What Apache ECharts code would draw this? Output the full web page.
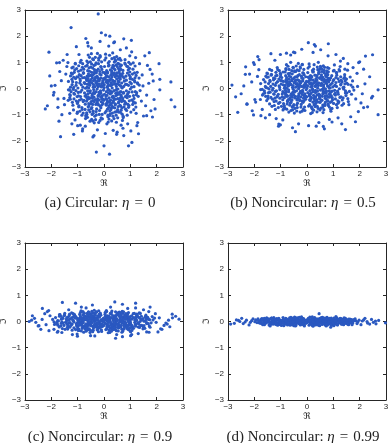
<!DOCTYPE html>
<html>
<head>
<meta charset="utf-8">
<script src="https://cdn.jsdelivr.net/npm/echarts@6/dist/echarts.min.js"></script>
<style>
html,body{margin:0;padding:0;background:#fff;}
#chart{width:391px;height:443px;}
</style>
</head>
<body>
<div id="chart"></div>
<script>
// tick values shared by all four panels
var tickValues = [-3, -2, -1, 0, 1, 2, 3];

// (a) circular, eta = 0 : points
var circCore = [[0.12,0.05],[-0.31,0.22],[0.45,-0.18],[-0.08,-0.41],[0.27,0.38],[-0.52,-0.09],[0.03,0.61],[0.58,0.14],[-0.19,-0.23],[0.36,-0.47],
[-0.44,0.41],[0.09,-0.12],[-0.63,0.17],[0.21,-0.64],[-0.27,-0.55],[0.49,0.49],[-0.05,0.29],[0.66,-0.31],[-0.38,-0.33],[0.15,0.19],
[-0.11,0.52],[0.31,0.02],[-0.56,-0.38],[0.41,0.27],[-0.22,0.07],[0.07,-0.29],[-0.47,0.62],[0.55,-0.55],[-0.02,-0.06],[0.24,-0.21],
[-0.35,0.33],[0.62,0.36],[-0.14,-0.67],[0.18,0.44],[-0.61,-0.2],[0.38,-0.08],[-0.26,0.46],[0.01,0.14],[0.52,-0.39],[-0.43,-0.61],
[0.29,0.59],[-0.09,-0.34],[0.47,0.08],[-0.57,0.28],[0.13,-0.48],[-0.3,-0.12],[0.69,0.02],[-0.17,0.36],[0.34,-0.29],[-0.41,0.05],
[0.06,0.42],[-0.66,-0.48],[0.23,0.12],[-0.04,-0.57],[0.57,0.26],[-0.33,-0.42],[0.16,-0.03],[-0.51,0.5],[0.43,-0.62],[-0.2,0.18],
[0.1,0.68],[-0.45,-0.27],[0.64,-0.12],[-0.12,-0.18],[0.33,0.31],[-0.58,0.02],[0.02,-0.22],[0.26,0.51],[-0.37,0.57],[0.5,-0.24],
[-0.24,-0.39],[0.19,-0.36],[-0.68,0.38],[0.4,0.18],[-0.07,0.09],[0.6,0.55],[-0.49,-0.5],[0.11,0.24],[-0.16,0.65],[0.35,-0.53],
[-0.28,0.26],[0.53,-0.02],[-0.01,-0.45],[0.22,0.33],[-0.54,0.12],[0.44,-0.41],[-0.13,-0.09],[0.05,0.56],[-0.39,-0.04],[0.67,0.21],
[-0.21,-0.63],[0.3,-0.14],[-0.6,-0.32],[0.14,0.09],[-0.32,0.44],[0.48,0.37],[-0.06,-0.27],[0.39,0.6],[-0.46,0.21],[0.08,-0.6],
[0.25,-0.44],[-0.53,-0.16],[0.61,-0.45],[-0.18,0.3],[0.04,0.35],[-0.42,-0.46],[0.56,0.41],[-0.1,-0.51],[0.32,0.15],[-0.64,0.06],
[0.17,-0.17],[-0.29,0.6],[0.46,-0.06],[-0.03,0.21],[0.28,-0.58],[-0.5,0.34],[0.63,0.1],[-0.23,-0.28],[0.09,0.47],[-0.36,-0.19],
[0.42,0.45],[-0.15,0.11],[0.2,-0.53],[-0.59,0.47],[0.54,0.29],[-0.08,-0.63],[0.37,-0.35],[-0.4,0.15],[0.0,0.03],[0.27,0.22],
[-0.62,-0.09],[0.13,0.63],[-0.25,-0.47],[0.51,-0.16],[-0.34,0.38],[0.07,-0.39],[0.59,0.47],[-0.48,-0.58],[0.19,0.28],[-0.12,0.4],
[0.45,-0.27],[-0.55,0.25],[0.24,-0.09],[-0.19,-0.15],[0.36,0.53],[-0.04,0.62],[0.65,-0.25],[-0.44,-0.36],[0.11,-0.26],[-0.27,0.13]];
var circFill = [[0.18,-0.72],[-0.66,0.31],[0.93,0.12],[-0.21,0.95],[0.47,-0.88],[-1.02,-0.31],[0.29,0.67],[-0.48,-0.77],[0.71,0.58],[-0.87,0.49],
[0.04,-0.93],[0.58,-0.22],[-0.35,0.07],[1.09,-0.61],[-0.13,-0.32],[0.39,1.01],[-0.74,-0.17],[0.82,-0.79],[-0.57,0.79],[0.13,0.31],
[-0.96,0.87],[0.66,0.89],[-0.29,-1.01],[1.18,0.41],[-0.42,0.52],[0.23,-0.47],[-1.16,-0.82],[0.51,0.19],[-0.08,0.73],[0.88,-0.35],
[-0.62,-0.41],[0.34,-1.06],[-1.24,0.59],[0.77,0.28],[-0.17,-0.84],[1.01,0.93],[-0.51,0.24],[0.09,-0.64],[-0.84,-0.73],[0.45,0.53],
[-0.33,1.19],[1.23,-0.24],[-0.7,0.01],[0.19,0.89],[-1.07,-0.08],[0.63,-0.67],[-0.24,0.41],[0.96,0.51],[-0.45,-0.99],[0.31,-0.33],
[-0.91,0.36],[0.54,1.12],[-0.06,-1.16],[0.85,-0.09],[-1.19,0.26],[0.12,0.48],[-0.58,-0.58],[1.14,0.07],[-0.38,0.88],[0.69,-0.98],
[-0.79,-0.94],[0.27,0.11],[-1.28,-0.41],[0.92,0.71],[-0.16,0.55],[0.41,-0.74],[-0.65,1.05],[1.05,-0.44],[-0.03,-0.41],[0.6,0.41],
[-0.99,-0.52],[0.36,0.77],[-0.44,-0.21],[0.79,-0.6],[-1.11,0.71],[0.16,-1.28],[-0.27,0.17],[1.27,0.22],[-0.72,-0.8],[0.48,-0.03],
[-0.55,0.66],[0.07,1.17],[-0.89,-0.31],[0.74,-0.18],[-0.12,-0.74],[1.08,0.35],[-0.4,0.3],[0.22,-0.86],[-1.03,0.45],[0.64,0.73],
[-0.31,-0.61],[0.95,-0.65],[-0.78,0.58],[0.28,-0.16],[-1.14,-0.19],[0.53,0.96],[-0.2,1.08],[0.86,0.16],[-0.63,-1.1],[0.14,0.6],
[-0.86,0.14],[0.43,-0.59],[-0.09,0.19],[1.19,-0.12],[-0.47,0.94],[0.7,0.46],[-1.27,0.05],[0.32,-0.94],[-0.19,-0.44],[0.9,0.84],
[-0.68,-0.25],[0.2,1.03],[-0.95,-0.66],[0.61,-0.37],[-0.36,0.63],[1.13,-0.81],[-0.02,0.38],[0.44,0.16],[-1.09,0.96],[0.78,-0.49],
[-0.53,-0.89],[0.99,0.38],[-0.26,-0.02],[0.37,0.86],[-0.81,0.41],[0.65,-0.83],[-1.2,-0.53],[0.1,-0.41],[-0.43,1.13],[1.16,0.6],
[-0.73,0.19],[0.52,-1.12],[-0.11,0.82],[0.87,-0.26],[-0.98,-0.15],[0.3,0.45],[-0.6,-0.7],[1.22,0.5],[-0.32,-1.19],[0.58,0.68],
[-1.05,0.23],[0.11,-0.55],[-0.46,0.49],[0.81,0.93],[-0.23,-0.58],[0.68,0.04],[-0.9,1.0],[0.38,-0.4],[-1.3,-0.23],[0.97,-0.3],
[-0.61,0.38],[0.26,-0.81],[-0.15,1.26],[1.04,0.19],[-0.76,-0.45],[0.49,0.6],[-0.37,-0.5],[0.73,-1.11],[-1.15,0.43],[0.02,0.84],
[-0.5,-0.36],[0.89,0.59],[-0.07,-0.99],[0.56,-0.51],[-0.97,0.66],[0.35,0.27],[-0.69,-1.03],[1.11,-0.5],[-0.28,0.68],[0.17,-0.06],
[-0.84,-0.06],[0.62,0.84],[-0.41,-0.86],[0.94,-0.14],[-1.22,0.79],[0.08,0.25],[-0.56,0.16],[0.76,-0.7],[-0.18,-0.23],[0.42,1.1],
[-0.93,-0.44],[0.31,-0.68],[-0.3,0.98],[1.17,0.25],[-0.64,0.47],[0.55,-0.9],[-0.1,0.06],[0.83,0.47],[-1.01,-0.9],[0.24,0.71],
[-0.39,-0.15],[0.71,-0.44],[-0.82,0.81],[0.15,-1.02],[-0.22,0.31],[1.0,-0.02],[-0.66,-0.34],[0.46,0.9],[-1.17,-0.03],[0.6,-0.14]];
var circRing = [[0.85,0.32],[-0.92,0.21],[0.34,0.88],[-0.41,-0.95],[1.12,-0.27],[-1.05,-0.48],[0.62,-0.91],[-0.77,0.74],[0.15,-1.08],[-0.2,1.16],
[0.98,0.63],[-1.21,0.15],[0.71,-0.38],[-0.58,-0.82],[0.44,1.05],[-0.89,-0.13],[1.28,0.18],[-0.33,0.91],[0.08,-0.87],[-1.13,0.62],
[0.93,-0.72],[-0.68,-1.08],[0.55,0.76],[-1.3,-0.35],[0.21,1.27],[-0.74,0.42],[1.05,0.05],[-0.15,-1.22],[0.79,0.97],[-0.96,-0.7],
[0.38,-1.15],[-0.52,1.02],[1.19,-0.55],[-1.08,0.38],[0.66,0.52],[-0.28,-0.78],[0.9,-0.2],[-0.81,0.95],[0.03,1.09],[-1.25,-0.12],
[0.73,-1.06],[-0.47,-1.18],[1.33,0.4],[-0.62,0.68],[0.27,-0.76],[-0.99,0.02],[0.48,1.22],[-0.86,-0.41],[1.1,0.74],[-0.12,0.84],
[0.61,-0.64],[-1.17,0.82],[0.82,0.16],[-0.37,-1.31],[0.16,0.97],[-0.71,-0.6],[1.24,-0.16],[-0.55,1.19],[0.96,-0.47],[-1.02,-0.95],
[0.42,0.72],[-0.25,1.34],[0.7,-1.22],[-1.35,0.27],[0.87,0.85],[-0.8,0.05],[0.11,-1.35],[-0.43,0.78],[1.16,0.3],[-0.66,-0.93],
[0.52,-0.81],[-1.12,-0.22],[0.3,1.14],[-0.94,0.53],[1.02,-0.9],[-0.18,-0.99],[0.76,0.4],[-0.6,1.28],[1.37,-0.08],[-0.84,-1.02],
[0.24,-0.97],[-1.27,0.48],[0.64,1.08],[-0.46,-0.73],[1.08,0.55],[-0.09,1.02],[0.83,-0.56],[-0.72,-0.29],[0.47,-1.29],[-1.04,0.76],
[0.99,0.24],[-0.35,-1.06],[0.58,0.93],[-0.9,0.3],[1.21,-0.71],[-0.64,0.88],[0.19,-1.17],[-1.18,-0.64],[0.72,0.69],[-0.22,0.74],
[0.94,1.0],[-1.31,-0.05],[0.35,-0.72],[-0.53,-1.25],[1.26,0.62],[-0.78,0.61],[0.06,1.31],[-0.97,-0.28],[0.68,-0.74],[-0.4,1.1],
[1.14,-0.38],[-0.83,-0.8],[0.5,0.84],[-1.06,0.12],[0.29,-1.24],[-0.61,0.99],[0.88,-1.02],[-1.22,0.35],[0.75,0.08],[-0.3,-0.88],
[1.0,0.44],[-0.7,-1.15],[0.39,1.18],[-1.14,-0.4],[0.81,-0.31],[-0.5,0.82],[1.3,-0.3],[-0.88,0.7],[0.13,-0.79],[-0.2,-1.3],
[0.6,1.15],[-1.01,-0.57],[1.18,0.86],[-0.57,-0.67],[0.31,0.8],[-1.36,-0.45],[0.91,-0.61],[-0.75,0.23],[0.46,-1.02],[-0.14,1.21],
[1.07,-0.13],[-0.92,-0.87],[0.57,0.62],[-1.2,0.55],[0.22,-1.03],[-0.48,1.33],[0.97,0.77],[-0.79,-0.5],[1.22,-0.95],[-0.36,0.72],
[0.67,-0.5],[-1.09,0.94],[0.41,-0.9],[-0.65,-0.99],[0.8,1.1],[-0.98,0.44],[1.34,0.13],[-0.11,-1.12],[0.54,-0.69],[-0.87,1.08],
[0.17,0.86],[-1.28,-0.27],[0.86,-0.84],[-0.59,0.56],[1.11,0.98],[-0.42,-1.24],[0.74,-0.15],[-1.15,0.04],[0.33,1.36],[-0.7,0.85]];
var circOuter = [[1.45,0.52],[-1.52,-0.38],[0.62,1.48],[-0.71,-1.44],[1.58,-0.66],[-1.41,0.84],[0.35,-1.6],[-0.48,1.55],[1.7,0.2],[-1.62,0.3],
[1.2,1.18],[-1.1,-1.2],[0.9,-1.35],[-0.95,1.3],[1.5,-1.05],[-1.75,-0.72],[0.18,1.62],[-0.25,-1.58],[1.83,0.55],[-1.55,1.08],
[1.35,0.95],[-1.3,-0.95],[0.72,-1.52],[-0.6,1.62],[1.62,-0.25],[-1.86,0.12],[1.05,1.4],[-1.22,-1.35],[0.48,-1.75],[-1.45,0.55],
[1.9,-0.42],[-1.6,-1.0],[0.85,1.55],[-0.82,-1.62],[1.48,0.1],[-1.4,1.3],[1.28,-1.3],[-1.92,-0.25],[0.05,-1.72],[-0.15,1.8],
[1.65,0.88],[-1.68,0.65],[1.02,-1.62],[-1.05,1.6],[1.78,-0.85],[-1.5,-0.62],[0.4,1.78],[-0.42,-1.85],[1.55,1.25],[-1.8,0.98],
[1.42,-0.48],[-1.35,-0.05],[0.98,1.25],[-0.9,-1.4],[0.65,-1.4]];
var circStray = [[-0.22,2.85],[-1.25,2.33],[-0.1,2.13],[0.06,2.04],[0.22,2.0],[-0.69,1.91],[0.75,1.9],[1.04,1.84],[-2.09,1.39],[2.09,0.95],
[2.54,0.25],[2.55,-0.43],[2.69,-0.7],[-2.23,-0.78],[-2.15,-0.66],[-1.71,-1.25],[-1.65,-1.84],[-1.15,-1.75],[-0.29,-2.43],[0.21,-2.51],
[0.0,-2.19],[0.93,-2.19],[1.06,-2.06],[1.84,-1.09],[2.12,-0.05],[1.72,1.37],[-0.38,-1.8],[1.31,-1.73],[-2.06,0.48],[-2.0,0.1],
[-1.9,-0.15],[-1.75,-0.4],[-1.37,0.99],[-1.69,0.99],[1.75,0.73],[1.87,0.29],[2.12,0.35],[1.94,-0.78],[1.62,-1.04],[1.25,-1.42],
[-1.0,-1.42],[-0.81,-1.54],[0.5,-1.67],[0.75,-1.8],[-0.62,1.75],[0.37,1.75]];

// (b) noncircular, eta = 0.5
var nc05Core = [[0.14,0.06],[-0.42,0.18],[0.61,-0.12],[-0.1,-0.33],[0.35,0.27],[-0.7,-0.05],[0.05,0.44],[0.78,0.1],[-0.25,-0.15],[0.48,-0.36],
[-0.58,0.3],[0.11,-0.08],[-0.83,0.12],[0.29,-0.46],[-0.37,-0.4],[0.66,0.35],[-0.06,0.21],[0.85,-0.22],[-0.51,-0.24],[0.2,0.14],
[-0.15,0.38],[0.41,0.01],[-0.74,-0.28],[0.55,0.2],[-0.3,0.05],[0.09,-0.21],[-0.62,0.45],[0.73,-0.4],[-0.03,-0.04],[0.32,-0.15],
[-0.47,0.24],[0.82,0.26],[-0.19,-0.48],[0.24,0.32],[-0.8,-0.14],[0.51,-0.06],[-0.35,0.33],[0.02,0.1],[0.69,-0.28],[-0.57,-0.44],
[0.39,0.43],[-0.12,-0.25],[0.63,0.06],[-0.76,0.2],[0.17,-0.35],[-0.4,-0.09],[0.88,0.02],[-0.23,0.26],[0.45,-0.21],[-0.55,0.04],
[0.08,0.3],[-0.86,-0.35],[0.31,0.09],[-0.05,-0.41],[0.75,0.19],[-0.44,-0.3],[0.21,-0.02],[-0.68,0.36],[0.57,-0.45],[-0.27,0.13],
[0.13,0.49],[-0.6,-0.2],[0.84,-0.09],[-0.16,-0.13],[0.44,0.22],[-0.77,0.01],[0.03,-0.16],[0.34,0.37],[-0.49,0.41],[0.66,-0.17],
[-0.32,-0.28],[0.25,-0.26],[-0.9,0.27],[0.53,0.13],[-0.09,0.07],[0.8,0.4],[-0.65,-0.36],[0.15,0.17],[-0.21,0.47],[0.47,-0.38],
[-0.37,0.19],[0.7,-0.01],[-0.01,-0.32],[0.29,0.24],[-0.72,0.09],[0.58,-0.3],[-0.17,-0.07],[0.07,0.41],[-0.52,-0.03],[0.89,0.15],
[-0.28,-0.46],[0.4,-0.1],[-0.79,-0.23],[0.19,0.07],[-0.43,0.32],[0.64,0.27],[-0.08,-0.2],[0.52,0.44],[-0.61,0.15],[0.1,-0.43],
[0.33,-0.32],[-0.7,-0.12],[0.81,-0.33],[-0.24,0.22],[0.05,0.25],[-0.56,-0.33],[0.74,0.3],[-0.13,-0.37],[0.43,0.11],[-0.85,0.04],
[0.22,-0.12],[-0.38,0.44],[0.61,-0.04],[-0.04,0.15],[0.37,-0.42],[-0.66,0.25],[0.83,0.07],[-0.31,-0.2],[0.12,0.34],[-0.48,-0.14],
[0.56,0.33],[-0.2,0.08],[0.27,-0.39],[-0.78,0.34],[0.71,0.21],[-0.11,-0.46],[0.49,-0.25],[-0.53,0.11],[0.0,0.02],[0.36,0.16],
[-0.82,-0.07],[0.17,0.46],[-0.33,-0.34],[0.68,-0.12],[-0.45,0.27],[0.09,-0.28],[0.79,0.34],[-0.64,-0.42],[0.25,0.2],[-0.16,0.29],
[0.6,-0.2],[-0.73,0.18],[0.32,-0.07],[-0.25,-0.11],[0.48,0.39],[-0.05,0.45],[0.87,-0.18],[-0.59,-0.26],[0.15,-0.19],[-0.36,0.1]];
var nc05Fill = [[0.22,-0.52],[-0.81,0.27],[1.12,0.08],[-0.3,0.68],[0.6,-0.63],[-1.25,-0.22],[0.37,0.49],[-0.63,-0.55],[0.9,0.41],[-1.07,0.36],
[0.06,-0.67],[0.73,-0.16],[-0.43,0.05],[1.34,-0.44],[-0.18,-0.23],[0.48,0.73],[-0.92,-0.12],[1.01,-0.57],[-0.71,0.57],[0.16,0.22],
[-1.18,0.62],[0.81,0.64],[-0.37,-0.73],[1.45,0.3],[-0.52,0.37],[0.29,-0.34],[-1.42,-0.59],[0.63,0.14],[-0.11,0.53],[1.08,-0.25],
[-0.77,-0.3],[0.42,-0.76],[-1.52,0.43],[0.95,0.2],[-0.22,-0.61],[1.24,0.67],[-0.63,0.17],[0.12,-0.46],[-1.03,-0.53],[0.56,0.38],
[-0.41,0.86],[1.51,-0.17],[-0.86,0.01],[0.24,0.64],[-1.31,-0.06],[0.78,-0.48],[-0.3,0.3],[1.18,0.37],[-0.56,-0.71],[0.38,-0.24],
[-1.12,0.26],[0.67,0.81],[-0.08,-0.84],[1.05,-0.07],[-1.46,0.19],[0.15,0.35],[-0.71,-0.42],[1.4,0.05],[-0.47,0.64],[0.85,-0.71],
[-0.97,-0.68],[0.33,0.08],[-1.57,-0.3],[1.13,0.51],[-0.2,0.4],[0.5,-0.53],[-0.8,0.76],[1.29,-0.32],[-0.04,-0.3],[0.74,0.3],
[-1.22,-0.37],[0.44,0.56],[-0.54,-0.15],[0.97,-0.43],[-1.36,0.51],[0.2,-0.92],[-0.33,0.12],[1.56,0.16],[-0.89,-0.58],[0.59,-0.02],
[-0.68,0.48],[0.09,0.84],[-1.09,-0.22],[0.91,-0.13],[-0.15,-0.53],[1.33,0.25],[-0.49,0.22],[0.27,-0.62],[-1.27,0.33],[0.79,0.53],
[-0.38,-0.44],[1.17,-0.47],[-0.96,0.42],[0.34,-0.12],[-1.4,-0.14],[0.65,0.69],[-0.25,0.78],[1.06,0.12],[-0.77,-0.79],[0.17,0.43],
[-1.06,0.1],[0.53,-0.43],[-0.11,0.14],[1.46,-0.09],[-0.58,0.68],[0.86,0.33],[-1.56,0.04],[0.39,-0.68],[-0.23,-0.32],[1.11,0.61],
[-0.84,-0.18],[0.25,0.74],[-1.17,-0.48],[0.75,-0.27],[-0.44,0.45],[1.39,-0.58],[-0.02,0.27],[0.54,0.12],[-1.34,0.69],[0.96,-0.35],
[-0.65,-0.64],[1.22,0.27],[-0.32,-0.01],[0.46,0.62],[-1.0,0.3],[0.8,-0.6],[-1.48,-0.38],[0.12,-0.3],[-0.53,0.81],[1.43,0.43],
[-0.9,0.14],[0.64,-0.81],[-0.14,0.59],[1.07,-0.19],[-1.2,-0.11],[0.37,0.32],[-0.74,-0.5],[1.5,0.36],[-0.39,-0.86],[0.71,0.49],
[-1.29,0.17],[0.14,-0.4],[-0.57,0.35],[1.0,0.67],[-0.28,-0.42],[0.84,0.03],[-1.11,0.72],[0.47,-0.29],[-1.6,-0.17],[1.19,-0.22],
[-0.75,0.27],[0.32,-0.58],[-0.18,0.91],[1.28,0.14],[-0.94,-0.32],[0.6,0.43],[-0.46,-0.36],[0.9,-0.8],[-1.41,0.31],[0.03,0.61],
[-0.62,-0.26],[1.1,0.42],[-0.09,-0.71],[0.69,-0.37],[-1.19,0.48],[0.43,0.19],[-0.85,-0.74],[1.37,-0.36],[-0.35,0.49],[0.21,-0.04],
[-1.03,-0.04],[0.76,0.6],[-0.5,-0.62],[1.16,-0.1],[-1.5,0.57],[0.1,0.18],[-0.69,0.12],[0.93,-0.5],[-0.22,-0.17],[0.52,0.79],
[-1.14,-0.32],[0.38,-0.49],[-0.37,0.71],[1.44,0.18],[-0.79,0.34],[0.68,-0.65],[-0.12,0.04],[1.02,0.34],[-1.24,-0.65],[0.3,0.51],
[-0.48,-0.11],[0.87,-0.32],[-1.01,0.58],[0.18,-0.74],[-0.27,0.22],[1.23,-0.01],[-0.81,-0.25],[0.57,0.65],[-1.44,-0.02],[0.74,-0.1]];
var nc05Ring = [[1.1,0.23],[-1.2,0.12],[0.45,0.63],[-0.53,-0.68],[1.46,-0.17],[-1.37,-0.34],[0.81,-0.65],[-1.0,0.53],[0.2,-0.78],[-0.26,0.83],
[1.28,0.45],[-1.58,0.08],[0.92,-0.27],[-0.75,-0.59],[0.57,0.75],[-1.16,-0.09],[1.67,0.13],[-0.43,0.65],[0.1,-0.62],[-1.47,0.44],
[1.21,-0.51],[-0.88,-0.77],[0.72,0.54],[-1.69,-0.25],[0.27,0.91],[-0.96,0.3],[1.37,0.03],[-0.19,-0.87],[1.03,0.69],[-1.25,-0.5],
[0.49,-0.82],[-0.68,0.73],[1.55,-0.39],[-1.4,0.27],[0.86,0.37],[-0.36,-0.56],[1.17,-0.14],[-1.05,0.68],[0.04,0.78],[-1.62,-0.09],
[0.95,-0.76],[-0.61,-0.84],[1.73,0.29],[-0.81,0.49],[0.35,-0.54],[-1.29,0.01],[0.62,0.87],[-1.12,-0.29],[1.43,0.53],[-0.16,0.6],
[0.79,-0.46],[-1.52,0.59],[1.07,0.11],[-0.48,-0.94],[0.21,0.69],[-0.92,-0.43],[1.61,-0.11],[-0.72,0.85],[1.25,-0.34],[-1.33,-0.68],
[0.55,0.52],[-0.33,0.96],[0.91,-0.87],[-1.76,0.19],[1.13,0.61],[-1.04,0.04],[0.14,-0.96],[-0.56,0.56],[1.51,0.21],[-0.86,-0.66],
[0.68,-0.58],[-1.46,-0.16],[0.39,0.82],[-1.22,0.38],[1.33,-0.64],[-0.23,-0.71],[0.99,0.29],[-0.78,0.91],[1.78,-0.06],[-1.09,-0.73],
[0.31,-0.69],[-1.65,0.34],[0.83,0.77],[-0.6,-0.52],[1.4,0.39],[-0.12,0.73],[1.08,-0.4],[-0.94,-0.21],[0.61,-0.92],[-1.35,0.54],
[1.29,0.17],[-0.46,-0.76],[0.75,0.67],[-1.17,0.21],[1.57,-0.5],[-0.83,0.63],[0.25,-0.83],[-1.53,-0.46],[0.94,0.49],[-0.29,0.53],
[1.22,0.72],[-1.7,-0.03],[0.46,-0.52],[-0.69,-0.9],[1.64,0.44],[-1.01,0.44],[0.08,0.94],[-1.26,-0.2],[0.88,-0.53],[-0.52,0.79],
[1.48,-0.27],[-1.08,-0.57],[0.65,0.6],[-1.38,0.08],[0.38,-0.89],[-0.8,0.72],[1.15,-0.73],[-1.59,0.25],[0.98,0.06],[-0.39,-0.63],
[1.3,0.32],[-0.91,-0.82],[0.51,0.85],[-1.48,-0.29],[1.05,-0.22],[-0.65,0.58],[1.69,-0.22],[-1.14,0.5],[0.17,-0.7],[-0.26,-0.9],
[0.78,0.8],[-1.31,-0.41],[1.54,0.7],[-0.74,-0.47],[0.41,0.72],[-1.77,-0.42],[1.18,-0.56],[-0.98,0.17],[0.6,-0.71],[-0.18,0.92],
[1.39,-0.02],[-1.2,-0.8],[0.74,0.45],[-1.56,0.47],[0.29,-0.6],[-0.62,1.0],[1.26,0.84],[-1.03,-0.37],[1.59,-0.62],[-0.47,0.67],
[0.87,-0.32],[-1.42,0.73],[0.53,-0.75],[-0.85,-0.76],[1.04,0.9],[-1.27,0.4],[1.74,0.05],[-0.14,-0.8],[0.7,-0.52],[-1.13,0.8],
[0.22,0.63],[-1.66,-0.2],[1.12,-0.62],[-0.77,0.42],[1.44,0.74],[-0.55,-0.82],[0.96,-0.1],[-1.5,0.02],[0.43,1.0],[-0.91,0.63]];
var nc05Outer = [[1.9,0.58],[-1.98,-0.42],[0.8,1.25],[-0.92,-1.2],[2.05,-0.55],[-1.83,0.72],[0.45,-1.3],[-0.62,1.28],[2.2,0.18],[-2.1,0.25],
[1.55,0.95],[-1.42,-1.0],[1.18,-1.12],[-1.22,1.08],[1.95,-0.88],[-2.28,-0.6],[0.23,1.38],[-0.32,-1.35],[2.38,0.45],[-2.0,0.92],
[1.75,0.8],[-1.7,-0.8],[0.95,-1.28],[-0.78,1.35],[2.1,-0.2],[-2.4,0.1],[1.38,1.15],[-1.58,-1.12],[0.62,-1.45],[-1.88,0.46],
[2.45,-0.36],[-2.08,-0.85],[1.1,1.3],[-1.07,-1.36],[1.92,0.08],[-1.82,1.1],[1.66,-1.08],[-2.5,-0.2],[0.06,-1.42],[-0.2,1.5],
[2.15,0.74],[-2.18,0.55],[1.32,-1.35],[-1.37,1.33],[2.3,-0.7],[-1.95,-0.52],[0.52,1.48],[-0.55,-1.5],[2.0,1.02],[-2.33,0.83],
[1.85,-0.4],[-1.76,-0.04],[1.27,1.05],[-1.17,-1.15],[0.85,-1.18]];
var nc05Stray = [[0.05,1.75],[0.28,1.68],[0.32,1.62],[0.81,1.71],[-2.85,0.13],[-2.71,-0.32],[-2.63,-0.91],[-2.34,0.54],[-2.03,0.99],[-1.87,1.22],
[-1.01,1.3],[-0.51,1.39],[-0.46,1.37],[2.22,1.24],[2.49,1.29],[1.96,0.99],[2.7,-0.05],[2.49,-0.3],[2.7,-1.0],[2.15,-0.73],
[1.84,-1.27],[1.46,-1.57],[0.66,-1.54],[0.35,-1.44],[-0.44,-1.65],[-1.08,-1.44],[-1.01,-1.39],[-1.75,-1.04],[-2.28,-0.59],[-2.03,-1.01]];

// (c) noncircular, eta = 0.9
var nc09Core = [[0.12,0.03],[-0.45,0.1],[0.68,-0.05],[-0.12,-0.15],[0.38,0.12],[-0.8,-0.02],[0.05,0.2],[0.92,0.04],[-0.28,-0.07],[0.55,-0.17],
[-0.65,0.14],[0.15,-0.04],[-0.95,0.06],[0.32,-0.21],[-0.41,-0.18],[0.74,0.16],[-0.05,0.09],[0.97,-0.1],[-0.58,-0.11],[0.22,0.07],
[-0.17,0.17],[0.47,0.01],[-0.85,-0.13],[0.62,0.09],[-0.33,0.02],[0.1,-0.1],[-0.7,0.2],[0.83,-0.18],[-0.02,-0.02],[0.36,-0.07],
[-0.52,0.11],[0.9,0.12],[-0.22,-0.22],[0.27,0.15],[-0.9,-0.06],[0.58,-0.03],[-0.38,0.15],[0.02,0.05],[0.78,-0.13],[-0.63,-0.2],
[0.44,0.19],[-0.13,-0.11],[0.71,0.03],[-0.86,0.09],[0.19,-0.16],[-0.45,-0.04],[0.99,0.01],[-0.26,0.12],[0.5,-0.1],[-0.61,0.02],
[0.09,0.14],[-0.97,-0.16],[0.35,0.04],[-0.06,-0.19],[0.85,0.09],[-0.49,-0.14],[0.24,-0.01],[-0.77,0.16],[0.64,-0.2],[-0.3,0.06],
[0.14,0.22],[-0.68,-0.09],[0.94,-0.04],[-0.18,-0.06],[0.49,0.1],[-0.87,0.0],[0.04,-0.07],[0.39,0.17],[-0.55,0.19],[0.75,-0.08],
[-0.36,-0.13],[0.28,-0.12],[-1.0,0.12],[0.6,0.06],[-0.1,0.03],[0.88,0.18],[-0.73,-0.17],[0.17,0.08],[-0.24,0.21],[0.53,-0.17],
[-0.42,0.09],[0.79,0.0],[-0.01,-0.15],[0.33,0.11],[-0.81,0.04],[0.66,-0.14],[-0.19,-0.03],[0.08,0.18],[-0.59,-0.01],[0.98,0.07],
[-0.31,-0.21],[0.45,-0.05],[-0.89,-0.1],[0.21,0.03],[-0.48,0.15],[0.72,0.13],[-0.09,-0.09],[0.58,0.2],[-0.69,0.07],[0.11,-0.2],
[0.37,-0.15],[-0.79,-0.05],[0.91,-0.15],[-0.27,0.1],[0.06,0.11],[-0.63,-0.15],[0.82,0.14],[-0.15,-0.17],[0.48,0.05],[-0.95,0.02],
[0.25,-0.06],[-0.43,0.2],[0.69,-0.02],[-0.04,0.07],[0.41,-0.19],[-0.74,0.11],[0.93,0.03],[-0.35,-0.09],[0.13,0.16],[-0.54,-0.07],
[0.63,0.15],[-0.23,0.04],[0.3,-0.18],[-0.88,0.15],[0.8,0.1],[-0.12,-0.21],[0.55,-0.11],[-0.6,0.05],[0.0,0.0],[0.4,0.07]];
var nc09Fill = [[0.23,-0.24],[-0.9,0.12],[1.24,0.04],[-0.34,0.31],[0.67,-0.29],[-1.39,-0.1],[0.41,0.22],[-0.7,-0.25],[1.0,0.19],[-1.19,0.17],
[0.07,-0.31],[0.81,-0.07],[-0.48,0.02],[1.49,-0.2],[-0.2,-0.1],[0.53,0.33],[-1.02,-0.05],[1.12,-0.26],[-0.79,0.26],[0.18,0.1],
[-1.31,0.28],[0.9,0.29],[-0.41,-0.33],[1.61,0.14],[-0.58,0.17],[0.32,-0.16],[-1.58,-0.27],[0.7,0.06],[-0.12,0.24],[1.2,-0.11],
[-0.86,-0.14],[0.47,-0.35],[-1.69,0.2],[1.05,0.09],[-0.24,-0.28],[1.38,0.31],[-0.7,0.08],[0.13,-0.21],[-1.14,-0.24],[0.62,0.17],
[-0.46,0.39],[1.68,-0.08],[-0.96,0.0],[0.27,0.29],[-1.46,-0.03],[0.87,-0.22],[-0.33,0.14],[1.31,0.17],[-0.62,-0.32],[0.42,-0.11],
[-1.24,0.12],[0.74,0.37],[-0.09,-0.38],[1.17,-0.03],[-1.62,0.09],[0.17,0.16],[-0.79,-0.19],[1.56,0.02],[-0.52,0.29],[0.94,-0.32],
[-1.08,-0.31],[0.37,0.04],[-1.75,-0.14],[1.26,0.23],[-0.22,0.18],[0.56,-0.24],[-0.89,0.35],[1.43,-0.15],[-0.04,-0.14],[0.82,0.14],
[-1.36,-0.17],[0.49,0.26],[-0.6,-0.07],[1.08,-0.2],[-1.51,0.23],[0.22,-0.42],[-0.37,0.05],[1.73,0.07],[-0.99,-0.26],[0.66,-0.01],
[-0.76,0.22],[0.1,0.38],[-1.21,-0.1],[1.01,-0.06],[-0.17,-0.24],[1.48,0.11],[-0.54,0.1],[0.3,-0.28],[-1.41,0.15],[0.88,0.24],
[-0.42,-0.2],[1.3,-0.21],[-1.07,0.19],[0.38,-0.05],[-1.56,-0.06],[0.72,0.31],[-0.28,0.36],[1.18,0.05],[-0.86,-0.36],[0.19,0.2],
[-1.18,0.05],[0.59,-0.2],[-0.12,0.06],[1.62,-0.04],[-0.64,0.31],[0.96,0.15],[-1.73,0.02],[0.43,-0.31],[-0.26,-0.15],[1.23,0.28],
[-0.93,-0.08],[0.28,0.34],[-1.3,-0.22],[0.83,-0.12],[-0.49,0.21],[1.55,-0.26],[-0.02,0.12],[0.6,0.05],[-1.49,0.31],[1.07,-0.16],
[-0.72,-0.29],[1.36,0.12],[-0.36,0.0],[0.51,0.28],[-1.11,0.14],[0.89,-0.27],[-1.64,-0.17],[0.13,-0.14],[-0.59,0.37],[1.59,0.19],
[-1.0,0.06],[0.71,-0.37],[-0.16,0.27],[1.19,-0.09],[-1.33,-0.05],[0.41,0.15],[-0.82,-0.23],[1.66,0.16],[-0.43,-0.39],[0.79,0.22],
[-1.43,0.08],[0.16,-0.18],[-0.63,0.16],[1.11,0.3],[-0.31,-0.19],[0.93,0.01],[-1.23,0.33],[0.52,-0.13],[-1.78,-0.08],[1.32,-0.1],
[-0.83,0.12],[0.36,-0.26],[-0.2,0.41],[1.42,0.06],[-1.04,-0.15],[0.67,0.2],[-0.51,-0.16],[1.0,-0.36],[-1.57,0.14],[0.04,0.28],
[-0.69,-0.12],[1.22,0.19],[-0.1,-0.32],[0.77,-0.17],[-1.32,0.22],[0.48,0.09],[-0.94,-0.34],[1.52,-0.16],[-0.39,0.22],[0.23,-0.02],
[-1.14,-0.02],[0.84,0.27],[-0.56,-0.28],[1.29,-0.05],[-1.67,0.26],[0.11,0.08],[-0.77,0.05],[1.03,-0.23],[-0.24,-0.08],[0.58,0.36],
[-1.26,-0.15],[0.42,-0.22],[-0.41,0.32],[1.6,0.08],[-0.88,0.15],[0.76,-0.29],[-0.13,0.02],[1.13,0.15],[-1.38,-0.29],[0.33,0.23],
[-0.53,-0.05],[0.97,-0.14],[-1.12,0.26],[0.2,-0.33],[-0.3,0.1],[1.37,0.0],[-0.9,-0.11],[0.63,0.29],[-1.6,-0.01],[0.82,-0.05]];
var nc09Ring = [[1.22,0.1],[-1.35,0.05],[0.5,0.28],[-0.6,-0.3],[1.62,-0.08],[-1.52,-0.15],[0.9,-0.29],[-1.12,0.24],[0.22,-0.35],[-0.3,0.37],
[1.42,0.2],[-1.76,0.03],[1.02,-0.12],[-0.83,-0.26],[0.64,0.33],[-1.29,-0.04],[1.86,0.06],[-0.48,0.29],[0.11,-0.28],[-1.64,0.2],
[1.35,-0.23],[-0.98,-0.34],[0.8,0.24],[-1.88,-0.11],[0.3,0.4],[-1.07,0.13],[1.52,0.01],[-0.21,-0.39],[1.15,0.31],[-1.39,-0.22],
[0.54,-0.36],[-0.75,0.32],[1.72,-0.17],[-1.56,0.12],[0.96,0.16],[-0.4,-0.25],[1.3,-0.06],[-1.17,0.3],[0.05,0.35],[-1.8,-0.04],
[1.06,-0.34],[-0.68,-0.37],[1.92,0.13],[-0.9,0.22],[0.39,-0.24],[-1.43,0.0],[0.69,0.39],[-1.25,-0.13],[1.59,0.24],[-0.18,0.27],
[0.88,-0.2],[-1.69,0.26],[1.19,0.05],[-0.53,-0.42],[0.24,0.31],[-1.02,-0.19],[1.79,-0.05],[-0.8,0.38],[1.39,-0.15],[-1.48,-0.3],
[0.61,0.23],[-0.37,0.43],[1.01,-0.39],[-1.95,0.08],[1.26,0.27],[-1.16,0.02],[0.16,-0.43],[-0.62,0.25],[1.68,0.09],[-0.96,-0.29],
[0.76,-0.26],[-1.62,-0.07],[0.44,0.37],[-1.36,0.17],[1.48,-0.28],[-0.26,-0.32],[1.1,0.13],[-0.87,0.41],[1.98,-0.03],[-1.21,-0.33],
[0.35,-0.31],[-1.84,0.15],[0.93,0.34],[-0.67,-0.23],[1.56,0.17],[-0.14,0.32],[1.2,-0.18],[-1.05,-0.09],[0.68,-0.41],[-1.5,0.24],
[1.44,0.07],[-0.51,-0.34],[0.83,0.3],[-1.3,0.09],[1.75,-0.22],[-0.92,0.28],[0.28,-0.37],[-1.7,-0.21],[1.05,0.22],[-0.33,0.24],
[1.34,0.33],[-1.9,-0.01],[0.51,-0.23],[-0.77,-0.41],[1.83,0.19],[-1.13,0.19],[0.09,0.42],[-1.41,-0.1],[0.98,-0.24],[-0.58,0.35]];
var nc09Outer = [[2.1,0.14],[-2.2,-0.12],[0.9,0.5],[-1.02,-0.48],[2.28,-0.15],[-2.05,0.22],[0.48,-0.5],[-0.68,0.52],[2.45,0.05],[-2.35,0.08],
[1.7,0.38],[-1.6,-0.42],[1.3,-0.46],[-1.34,0.45],[2.2,-0.3],[-2.5,-0.17],[0.25,0.55],[-0.35,-0.55],[2.6,0.14],[-2.25,0.3],
[1.95,0.3],[-1.9,-0.3],[1.05,-0.5],[-0.86,0.55],[2.35,-0.06],[-2.64,0.12],[1.5,0.45],[-1.75,-0.38],[0.7,-0.58],[-2.15,0.38],
[2.05,-0.4],[-2.4,-0.3],[1.2,0.52],[-1.2,-0.5],[2.5,-0.2],[-2.1,0.42],[1.62,-0.4],[-2.75,0.05]];
var nc09Stray = [[-1.58,0.73],[-1.08,0.7],[-0.44,0.63],[0.41,0.75],[0.7,0.66],[1.2,0.7],[1.75,0.55],[-2.72,0.22],[-2.59,-0.03],[-2.47,-0.16],
[-2.34,0.5],[2.59,0.28],[2.72,0.2],[2.85,0.09],[2.4,-0.1],[2.15,-0.28],[-1.01,-0.56],[-0.51,-0.54],[0.44,-0.64],[1.01,-0.54],
[1.71,-0.41],[-1.77,-0.41],[-2.09,-0.35],[-2.84,0.0]];

// (d) noncircular, eta = 0.99
var nc099Core = [[0.1,0.01],[-0.47,0.03],[0.71,-0.02],[-0.14,-0.05],[0.4,0.04],[-0.82,-0.01],[0.03,0.06],[0.95,0.02],[-0.3,-0.03],[0.57,-0.06],
[-0.66,0.05],[0.18,-0.01],[-0.93,0.02],[0.34,-0.07],[-0.4,-0.06],[0.77,0.05],[-0.07,0.03],[0.99,-0.03],[-0.6,-0.04],[0.24,0.02],
[-0.19,0.06],[0.49,0.0],[-0.87,-0.05],[0.64,0.03],[-0.35,0.01],[0.12,-0.03],[-0.72,0.07],[0.85,-0.06],[-0.03,-0.01],[0.38,-0.02],
[-0.54,0.04],[0.89,0.04],[-0.24,-0.07],[0.29,0.05],[-0.98,-0.02],[0.6,-0.01],[-0.37,0.05],[0.0,0.02],[0.8,-0.04],[-0.65,-0.07],
[0.46,0.06],[-0.11,-0.04],[0.73,0.01],[-0.84,0.03],[0.21,-0.05],[-0.44,-0.01],[0.97,0.0],[-0.27,0.04],[0.52,-0.03],[-0.62,0.01],
[0.07,0.05],[-0.95,-0.06],[0.33,0.01],[-0.05,-0.06],[0.83,0.03],[-0.5,-0.05],[0.26,0.0],[-0.78,0.06],[0.66,-0.07],[-0.32,0.02],
[0.16,0.07],[-0.7,-0.03],[0.92,-0.01],[-0.17,-0.02],[0.51,0.03],[-0.89,0.0],[0.06,-0.02],[0.42,0.06],[-0.57,0.06],[0.76,-0.03],
[-0.38,-0.04],[0.3,-0.04],[-1.0,0.04],[0.62,0.02],[-0.09,0.01],[0.87,0.06],[-0.75,-0.06],[0.19,0.03],[-0.22,0.07],[0.55,-0.05],
[-0.43,0.03],[0.81,0.0],[-0.01,-0.05],[0.35,0.04],[-0.8,0.01],[0.68,-0.05],[-0.2,-0.01],[0.09,0.06],[-0.58,0.0],[0.96,0.02],
[-0.29,-0.07],[0.44,-0.02],[-0.91,-0.03],[0.23,0.01],[-0.47,0.05],[0.7,0.04],[-0.12,-0.03],[0.58,0.07],[-0.68,0.02],[0.13,-0.07],
[0.36,-0.05],[-0.77,-0.02],[0.9,-0.05],[-0.25,0.03],[0.04,0.04],[-0.61,-0.05],[0.84,0.05],[-0.15,-0.06],[0.47,0.02],[-0.96,0.01],
[0.27,-0.02],[-0.41,0.07],[0.67,-0.01],[-0.06,0.02],[0.39,-0.06],[-0.73,0.04],[0.94,0.01],[-0.34,-0.03],[0.15,0.05],[-0.52,-0.02]];
var nc099Fill = [[0.24,-0.11],[-0.92,0.05],[1.27,0.02],[-0.35,0.14],[0.69,-0.13],[-1.42,-0.04],[0.42,0.1],[-0.72,-0.11],[1.03,0.09],[-1.22,0.08],
[0.08,-0.14],[0.83,-0.03],[-0.49,0.01],[1.53,-0.09],[-0.21,-0.05],[0.55,0.15],[-1.05,-0.02],[1.15,-0.12],[-0.81,0.12],[0.19,0.05],
[-1.34,0.13],[0.92,0.13],[-0.42,-0.15],[1.65,0.06],[-0.6,0.08],[0.33,-0.07],[-1.62,-0.12],[0.72,0.03],[-0.13,0.11],[1.23,-0.05],
[-0.88,-0.06],[0.48,-0.16],[-1.73,0.09],[1.08,0.04],[-0.25,-0.13],[1.41,0.14],[-0.72,0.04],[0.14,-0.1],[-1.17,-0.11],[0.64,0.08],
[-0.47,0.17],[1.72,-0.04],[-0.98,0.0],[0.28,0.13],[-1.5,-0.01],[0.89,-0.1],[-0.34,0.06],[1.34,0.08],[-0.64,-0.14],[0.43,-0.05],
[-1.27,0.05],[0.76,0.16],[-0.1,-0.17],[1.2,-0.01],[-1.66,0.04],[0.18,0.07],[-0.81,-0.09],[1.6,0.01],[-0.53,0.13],[0.96,-0.14],
[-1.11,-0.14],[0.38,0.02],[-1.79,-0.06],[1.29,0.1],[-0.23,0.08],[0.57,-0.11],[-0.91,0.15],[1.47,-0.07],[-0.05,-0.06],[0.84,0.06],
[-1.39,-0.08],[0.5,0.12],[-0.62,-0.03],[1.11,-0.09],[-1.55,0.1],[0.23,-0.18],[-0.38,0.02],[1.77,0.03],[-1.01,-0.12],[0.68,0.0],
[-0.78,0.1],[0.11,0.17],[-1.24,-0.05],[1.04,-0.03],[-0.18,-0.11],[1.52,0.05],[-0.55,0.04],[0.31,-0.13],[-1.45,0.07],[0.9,0.11],
[-0.43,-0.09],[1.33,-0.1],[-1.09,0.09],[0.39,-0.02],[-1.6,-0.03],[0.74,0.14],[-0.29,0.16],[1.21,0.02],[-0.88,-0.16],[0.2,0.09],
[-1.21,0.02],[0.61,-0.09],[-0.12,0.03],[1.66,-0.02],[-0.66,0.14],[0.98,0.07],[-1.77,0.01],[0.44,-0.14],[-0.27,-0.07],[1.26,0.12],
[-0.95,-0.04],[0.29,0.15],[-1.33,-0.1],[0.85,-0.05],[-0.5,0.09],[1.58,-0.12],[-0.03,0.05],[0.62,0.02],[-1.53,0.14],[1.1,-0.07],
[-0.74,-0.13],[1.39,0.05],[-0.37,0.0],[0.52,0.12],[-1.14,0.06],[0.91,-0.12],[-1.68,-0.08],[0.14,-0.06],[-0.61,0.16],[1.63,0.09],
[-1.02,0.03],[0.73,-0.17],[-0.17,0.12],[1.22,-0.04],[-1.37,-0.02],[0.42,0.07],[-0.84,-0.1],[1.7,0.07],[-0.44,-0.17],[0.81,0.1],
[-1.47,0.04],[0.17,-0.08],[-0.65,0.07],[1.14,0.13],[-0.32,-0.08],[0.95,0.01],[-1.26,0.15],[0.53,-0.06],[-1.83,-0.04],[1.36,-0.04],
[-0.85,0.05],[0.37,-0.12],[-0.21,0.18],[1.46,0.03],[-1.07,-0.07],[0.69,0.09],[-0.52,-0.07],[1.02,-0.16],[-1.61,0.06],[0.05,0.12],
[-0.71,-0.05],[1.25,0.08],[-0.11,-0.14],[0.79,-0.08],[-1.36,0.1],[0.49,0.04],[-0.97,-0.15],[1.56,-0.07],[-0.4,0.1],[0.24,-0.01],
[-1.17,-0.01],[0.86,0.12],[-0.57,-0.12],[1.32,-0.02],[-1.71,0.11],[0.12,0.04],[-0.79,0.02],[1.06,-0.1],[-0.25,-0.04],[0.59,0.16],
[-1.29,-0.07],[0.43,-0.1],[-0.42,0.14],[1.64,0.04],[-0.9,0.07],[0.78,-0.13],[-0.14,0.01],[1.16,0.07],[-1.41,-0.13],[0.34,0.1],
[-0.54,-0.02],[0.99,-0.06],[-1.15,0.11],[0.21,-0.15],[-0.31,0.04],[1.4,0.0],[-0.92,-0.05],[0.65,0.13],[-1.64,0.0],[0.84,-0.02]];
var nc099Ring = [[1.2,0.03],[-1.33,0.02],[1.61,-0.03],[-1.54,-0.05],[1.05,-0.09],[-1.1,0.08],[1.44,0.07],[-1.78,0.01],[1.0,-0.04],[-1.26,-0.1],
[1.87,0.02],[-1.65,0.07],[1.33,-0.08],[-1.0,-0.11],[1.13,0.1],[-1.9,-0.04],[1.5,0.01],[-1.19,0.05],[1.74,-0.06],[-1.41,-0.02],
[1.28,0.11],[-1.6,-0.09],[1.93,-0.02],[-1.07,0.12],[1.39,-0.12],[-1.47,0.1],[1.67,0.05],[-1.84,0.04],[1.09,0.06],[-1.3,-0.07],
[1.55,-0.1],[-1.16,-0.03],[1.8,0.08],[-1.72,-0.08],[1.24,-0.01],[-1.95,0.06],[1.46,0.12],[-1.38,0.11],[1.71,-0.12],[-1.05,0.0],
[1.16,-0.13],[-1.52,0.0],[1.98,0.05],[-1.23,0.09],[1.35,0.04],[-1.68,-0.12],[1.58,0.09],[-1.12,-0.08],[1.02,0.13],[-1.86,0.1],
[1.9,-0.08],[-1.44,-0.13],[1.22,0.08],[-1.62,0.12],[1.65,-0.05],[-1.28,0.0],[1.42,-0.04],[-1.76,-0.06],[1.11,0.0],[-1.98,-0.01],
[1.83,0.1],[-1.35,0.13],[1.52,0.04],[-1.15,-0.12],[1.3,-0.1],[-1.57,0.03],[1.76,0.03],[-1.02,-0.05],[1.07,0.02],[-1.7,0.08]];
var nc099Outer = [[2.1,0.02],[-2.15,-0.03],[2.3,-0.06],[-2.3,0.05],[2.45,0.08],[-2.42,-0.08],[2.05,-0.12],[-2.05,0.1],[2.6,0.02],[-2.55,0.0],
[2.2,0.12],[-2.2,-0.13],[2.38,-0.1],[-2.68,0.06],[2.52,-0.03],[-2.48,0.12],[2.15,0.06],[-2.1,0.03],[2.72,0.04],[-2.76,-0.07],
[2.28,0.0],[-2.35,-0.02],[2.98,-0.05],[-2.6,0.04],[0.46,0.3],[0.9,-0.22],[2.62,-0.09],[-2.9,-0.1],[0.2,0.18],[-0.5,-0.16],
[1.1,0.19],[-1.4,-0.17]];

var captions = [
  {tag: '(a) Circular: ', val: '0'},
  {tag: '(b) Noncircular: ', val: '0.5'},
  {tag: '(c) Noncircular: ', val: '0.9'},
  {tag: '(d) Noncircular: ', val: '0.99'}
];

var panelData = [
  circCore.concat(circFill, circRing, circOuter, circStray),
  nc05Core.concat(nc05Fill, nc05Ring, nc05Outer, nc05Stray),
  nc09Core.concat(nc09Fill, nc09Ring, nc09Outer, nc09Stray),
  nc099Core.concat(nc099Fill, nc099Ring, nc099Outer)
];

var gridPos = [[25, 10], [228, 10], [25, 243], [228, 243]];
var captionPos = [[100, 203], [303, 203], [100, 437], [303, 437]];

var lineColor = '#262626';
var labelColor = '#262626';
var dotColor = '#2a58c0';

function minusFmt(v) {
  return String(v).replace('-', '\u2212');
}

var grids = [], xAxes = [], yAxes = [], series = [], texts = [];
for (var i = 0; i < 4; i++) {
  grids.push({
    left: gridPos[i][0], top: gridPos[i][1], width: 158, height: 157,
    outerBoundsMode: 'none', containLabel: false
  });
  var base = {
    gridIndex: i, type: 'value', min: tickValues[0], max: tickValues[tickValues.length - 1], interval: 1,
    axisLine: {show: true, onZero: false, lineStyle: {color: lineColor, width: 1}},
    axisTick: {show: true, inside: true, length: 3, lineStyle: {color: lineColor, width: 1}},
    splitLine: {show: false}
  };
  // bottom / left axes with labels
  xAxes.push(echarts.util.merge({
    position: 'bottom', name: '\u211C', nameLocation: 'middle', nameGap: 12,
    nameTextStyle: {fontFamily: 'DejaVu Sans', fontSize: 9, color: labelColor},
    axisLabel: {margin: 3, fontSize: 8, fontFamily: 'Liberation Sans', color: labelColor, formatter: minusFmt}
  }, base, true));
  yAxes.push(echarts.util.merge({
    position: 'left', name: '\u2111', nameLocation: 'middle', nameGap: 15,
    nameTextStyle: {fontFamily: 'DejaVu Sans', fontSize: 9, color: labelColor},
    axisLabel: {margin: 4, fontSize: 8, fontFamily: 'Liberation Sans', color: labelColor, formatter: minusFmt}
  }, base, true));
  // mirrored top / right axes, ticks only
  xAxes.push(echarts.util.merge({position: 'top', axisLabel: {show: false}}, base, true));
  yAxes.push(echarts.util.merge({position: 'right', axisLabel: {show: false}}, base, true));

  series.push({
    type: 'scatter',
    xAxisIndex: i * 2, yAxisIndex: i * 2,
    data: panelData[i],
    symbolSize: 3.2,
    silent: true,
    itemStyle: {color: dotColor, opacity: 1},
    animation: false
  });

  texts.push({
    type: 'text',
    x: captionPos[i][0], y: captionPos[i][1],
    style: {
      text: captions[i].tag + '{e|\u03B7}{q|=}' + captions[i].val,
      font: '15px "Liberation Serif"',
      fill: '#222',
      textAlign: 'center',
      textVerticalAlign: 'middle',
      rich: {
        e: {fontStyle: 'italic', fontFamily: 'Liberation Serif', fontSize: 15},
        q: {fontFamily: 'Liberation Serif', fontSize: 15, padding: [0, 5]}
      }
    }
  });
}

var chart = echarts.init(document.getElementById('chart'), null, {renderer: 'canvas'});
chart.setOption({
  backgroundColor: '#fff',
  animation: false,
  grid: grids,
  xAxis: xAxes,
  yAxis: yAxes,
  series: series,
  graphic: texts
});
</script>
</body>
</html>
